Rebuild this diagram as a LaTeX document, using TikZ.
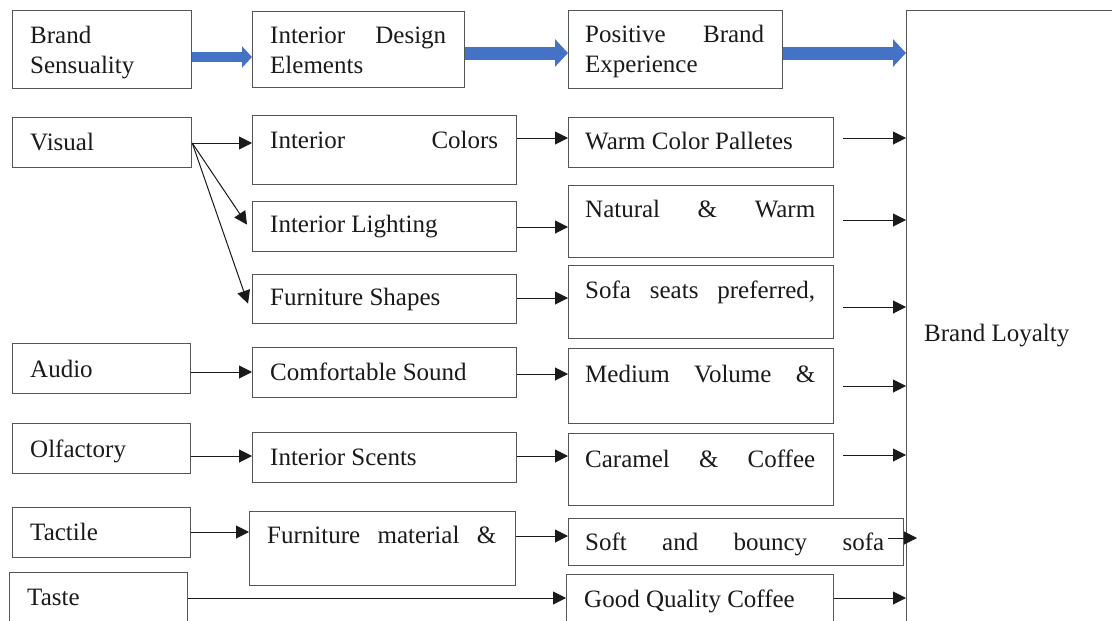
\documentclass[tikz,border=0pt]{standalone}
\usepackage{fontspec}
\setmainfont{Liberation Serif}
\usepackage{xcolor}
\usepackage{tikz}
\usetikzlibrary{arrows.meta,calc}
\definecolor{ink}{HTML}{1B1919}
\definecolor{frame}{HTML}{555555}
\definecolor{flow}{HTML}{4472C4}
\tikzset{
  box/.style={draw=frame, line width=1.2pt, anchor=north west, inner sep=0pt},
  txt/.style={anchor=base west, inner sep=0pt, align=left, text=ink, font=\fontsize{25}{30}\selectfont},
  arr/.style={-{Triangle[length=13pt, width=13pt]}, ink, line width=1pt},
  bigarr/.style={-{Triangle[length=10pt, width=21pt]}, flow, line width=10pt},
  bigarrb/.style={-{Triangle[length=13pt, width=27pt]}, flow, line width=13pt},
}

\begin{document}
\begin{tikzpicture}[x=1pt, y=-1pt]
\useasboundingbox (0,0) rectangle (1112,621);
\node[box, minimum width=179, minimum height=78] (bs) at (12,10) {};
\node[box, minimum width=212, minimum height=76] (ide) at (252,11) {};
\node[box, minimum width=214, minimum height=78] (pbe) at (568,10) {};
\node[box, minimum width=240, minimum height=650] (bl) at (906,10) {};
\node[box, minimum width=179, minimum height=50] (vis) at (12,117) {};
\node[box, minimum width=264, minimum height=69] (ic) at (252,115) {};
\node[box, minimum width=265, minimum height=50] (wcp) at (568,117) {};
\node[box, minimum width=264, minimum height=50] (il) at (252,201) {};
\node[box, minimum width=265, minimum height=72] (nw) at (568,185) {};
\node[box, minimum width=264, minimum height=49] (fs) at (252,274) {};
\node[box, minimum width=265, minimum height=73] (ssp) at (568,265) {};
\node[box, minimum width=178, minimum height=50] (aud) at (12,343) {};
\node[box, minimum width=264, minimum height=50] (cs) at (252,347) {};
\node[box, minimum width=265, minimum height=75] (mv) at (568,348) {};
\node[box, minimum width=178, minimum height=50] (olf) at (12,423) {};
\node[box, minimum width=264, minimum height=50] (is) at (252,432) {};
\node[box, minimum width=265, minimum height=72] (cc) at (568,433) {};
\node[box, minimum width=178, minimum height=50] (tac) at (12,507) {};
\node[box, minimum width=266, minimum height=74] (fm) at (249,511) {};
\node[box, minimum width=335, minimum height=47] (sbs) at (568,518) {};
\node[box, minimum width=178, minimum height=70] (tas) at (9,572) {};
\node[box, minimum width=267, minimum height=70] (gqc) at (566,574) {};
\node[txt] (bs-t) at (30,73) {Brand\\Sensuality};
\node[txt] (ide-t) at (270,73) {\makebox[176pt][s]{Interior Design}\\Elements};
\node[txt] (pbe-t) at (585,72) {\makebox[179pt][s]{Positive Brand}\\Experience};
\node[txt] (vis-t) at (30,150) {Visual};
\node[txt] (ic-t) at (270,148) {\makebox[228pt][s]{Interior Colors}};
\node[txt] (wcp-t) at (585,149) {Warm Color Palletes};
\node[txt] (il-t) at (270,232) {Interior Lighting};
\node[txt] (nw-t) at (585,217) {\makebox[230pt][s]{Natural \& Warm}};
\node[txt] (fs-t) at (270,305) {Furniture Shapes};
\node[txt] (ssp-t) at (585,298) {\makebox[230pt][s]{Sofa seats preferred,}};
\node[txt] (aud-t) at (30,377) {Audio};
\node[txt] (cs-t) at (270,380) {Comfortable Sound};
\node[txt] (mv-t) at (585,382) {\makebox[230pt][s]{Medium Volume \&}};
\node[txt] (bl-t) at (924,341) {Brand Loyalty};
\node[txt] (olf-t) at (30,457) {Olfactory};
\node[txt] (is-t) at (270,465) {Interior Scents};
\node[txt] (cc-t) at (585,467) {\makebox[230pt][s]{Caramel \& Coffee}};
\node[txt] (tac-t) at (30,540) {Tactile};
\node[txt] (fm-t) at (267,543) {\makebox[229pt][s]{Furniture material \&}};
\node[txt] (sbs-t) at (585,550) {\makebox[299pt][s]{Soft and bouncy sofa}};
\node[txt] (tas-t) at (27,605) {Taste};
\node[txt] (gqc-t) at (584,607) {Good Quality Coffee};
\coordinate (rc) at (843,0);
\coordinate (sbs-end) at (917,538);
\draw[bigarr] (bs.east |- 0,57) -- (ide.west |- 0,57);
\draw[bigarrb] (ide.east |- 0,53) -- (pbe.west |- 0,53);
\draw[bigarrb] (pbe.east |- 0,53) -- (bl.west |- 0,53);
\draw[arr] (vis.east |- 0,143) -- (ic.west |- 0,143);
\draw[arr] (vis.east |- 0,143) -- ([xshift=-5pt, yshift=2pt]il.west);
\draw[arr] (vis.east |- 0,143) -- ([xshift=-4pt, yshift=-4.5pt]fs.west);
\draw[arr] (ic.east |- 0,138) -- (wcp.west |- 0,138);
\draw[arr] (il.east |- 0,227) -- (nw.west |- 0,227);
\draw[arr] (fs.east |- 0,298) -- (ssp.west |- 0,298);
\draw[arr] (aud.east |- 0,372) -- (cs.west |- 0,372);
\draw[arr] (cs.east |- 0,374) -- (mv.west |- 0,374);
\draw[arr] (olf.east |- 0,456) -- (is.west |- 0,456);
\draw[arr] (is.east |- 0,456) -- (cc.west |- 0,456);
\draw[arr] (tac.east |- 0,532) -- (fm.west |- 0,532);
\draw[arr] (fm.east |- 0,536) -- (sbs.west |- 0,536);
\draw[arr] (tas.east |- 0,598) -- (gqc.west |- 0,598);
\draw[arr] (rc |- 0,138) -- (bl.west |- 0,138);
\draw[arr] (rc |- 0,220) -- (bl.west |- 0,220);
\draw[arr] (rc |- 0,307) -- (bl.west |- 0,307);
\draw[arr] (rc |- 0,386) -- (bl.west |- 0,386);
\draw[arr] (rc |- 0,455) -- (bl.west |- 0,455);
\draw[arr] (sbs.east |- 0,538) ++(-16,0) -- (sbs-end);
\draw[arr] (gqc.east |- 0,598) -- (bl.west |- 0,598);
\end{tikzpicture}
\end{document}
